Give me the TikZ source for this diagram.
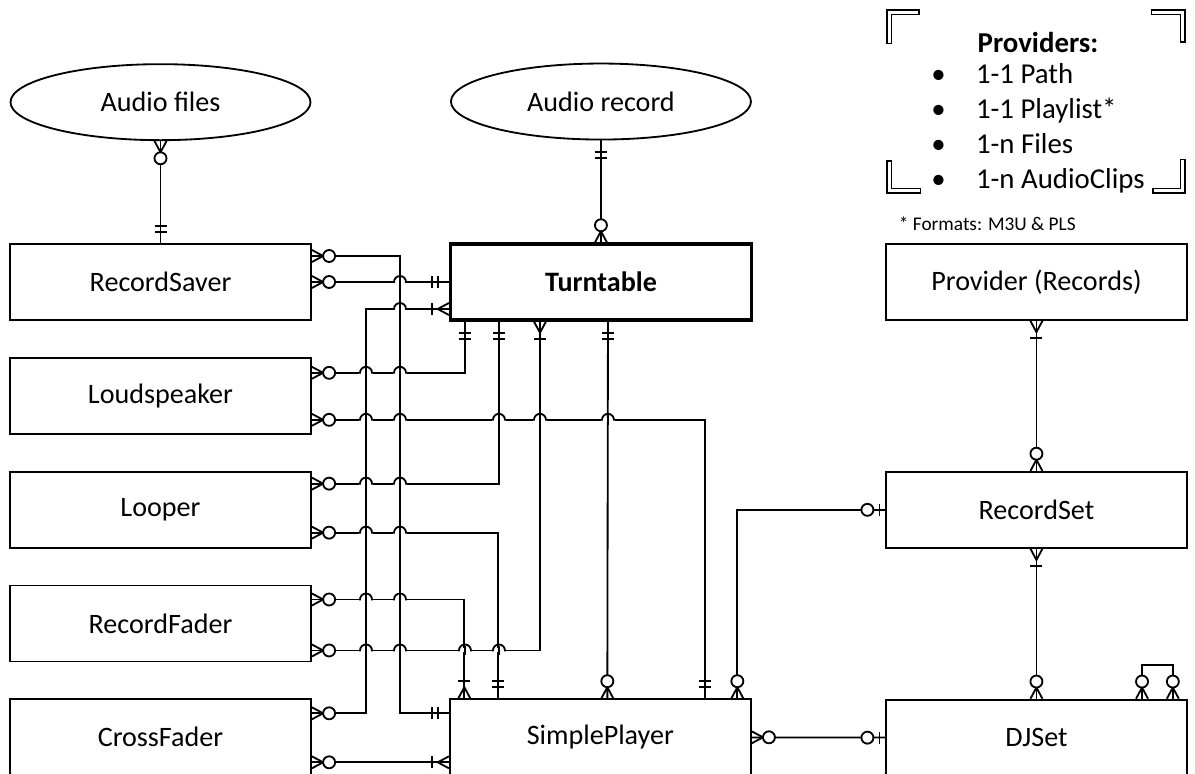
\documentclass[tikz,border=0pt]{standalone}
\usepackage{fontspec}
\setmainfont{Carlito}
\usetikzlibrary{shapes.geometric, positioning}

\tikzset{
    zeromany/.pic={
        \draw (0,0.15) -- (0.28,0) -- (0,-0.15);
        \draw[fill=white] (0.43,0) circle (0.15);
    },
    onemany/.pic={
        \draw (0,0.15) -- (0.28,0) -- (0,-0.15);
        \draw (0.43,0.15) -- (0.43,-0.15);
    },
    onlyone/.pic={
        \draw (0.28,0.15) -- (0.28,-0.15);
        \draw (0.43,0.15) -- (0.43,-0.15);
    },
    zeroone/.pic={
        \draw (0.14,0.15) -- (0.14,-0.15);
        \draw[fill=white] (0.44,0) circle (0.15);
    },
    hop/.pic={
        \fill[white] (-0.17,-0.05) rectangle (0.17,0.05);
        \draw (0,-0.12) -- (0,0.12);
        \draw (-0.17,0) -- (-0.15,0) arc[start angle=180, end angle=0, radius=0.15] -- (0.17,0);
    },
    legendmark/.pic={
        \draw[line width=0.8pt] (0,0) -- (0.8,0) -- (0.8,-0.11) -- (0.11,-0.11) -- (0.11,-0.83) -- (0,-0.83) -- cycle;
    }
}

\begin{document}
\begin{tikzpicture}[
    line width=1.3pt,
    box/.style={rectangle, draw, minimum width=7.525cm, minimum height=1.9cm, font=\fontsize{20}{24}\selectfont},
    storage/.style={ellipse, draw, minimum width=7.5cm, minimum height=1.9cm, font=\fontsize{20}{24}\selectfont}
]
\useasboundingbox (0,0) rectangle (29.875,-19.35);

% entities
\node[box] (recordsaver) at (4.0125,-7.05) {RecordSaver};
\node[box, below=0.9cm of recordsaver] (loudspeaker) {Loudspeaker};
\node[box, below=0.9cm of loudspeaker] (looper) {Looper};
\node[box, below=0.9cm of looper] (recordfader) {RecordFader};
\node[box, below=0.9cm of recordfader] (crossfader) {CrossFader};
\node[box, line width=2.2pt, right=3.425cm of recordsaver] (turntable) {\textbf{Turntable}};
\node[box, right=3.425cm of crossfader] (simpleplayer) {SimplePlayer};
\node[box, right=3.3cm of turntable] (provider) {Provider (Records)};
\node[box, below=3.75cm of provider] (recordset) {RecordSet};
\node[box, below=3.75cm of recordset] (djset) {DJSet};
\node[storage, above=2.55cm of recordsaver] (audiofiles) {Audio files};
\node[storage, above=2.55cm of turntable] (audiorecord) {Audio record};

% legend
\node[font=\fontsize{20.5}{25}\selectfont, inner sep=0pt] (legend) at (25.95,-2.8425) {\begin{tabular}{@{}c@{\hspace{0.76cm}}l@{}}
\multicolumn{2}{c}{\textbf{Providers:}}\\[-0.125cm]
\textbullet & 1-1 Path\\
\textbullet & 1-1 Playlist*\\
\textbullet & 1-n Files\\
\textbullet & 1-n AudioClips
\end{tabular}};
\node[anchor=west, inner sep=0pt, font=\fontsize{13.75}{16}\selectfont] (formats) at (22.45,-5.6) {* Formats: M3U \& PLS};
\pic at (22.175,-0.25) {legendmark};
\pic[rotate=-90] at (29.625,-0.25) {legendmark};
\pic[rotate=180] at (29.625,-4.825) {legendmark};
\pic[rotate=90] at (22.175,-4.825) {legendmark};

% vertical buses
\coordinate (busA) at (9.15,-10);
\coordinate (busB) at (10,-10);
\coordinate (colA) at ([xshift=-3.4cm]turntable.south);
\coordinate (colB) at ([xshift=-2.55cm]turntable.south);
\coordinate (colC) at ([xshift=-1.525cm]turntable.south);
\coordinate (colD) at ([xshift=0.175cm]turntable.south);

% relations
\draw (audiofiles) -- (recordsaver);
\draw (audiorecord) -- (turntable);
\draw ([yshift=0.65cm]recordsaver.east) -| (busB) |- ([yshift=0.6cm]simpleplayer.west);
\draw (recordsaver.east) -- (turntable.west);
\draw ([yshift=-0.675cm]turntable.west) -| (busA) |- ([yshift=0.6cm]crossfader.east);
\draw ([yshift=0.575cm]loudspeaker.east) -| ([xshift=-3.4cm]turntable.south);
\draw ([yshift=-0.6cm]loudspeaker.east) -| ([xshift=2.625cm]simpleplayer.north);
\draw ([yshift=0.65cm]looper.east) -| ([xshift=-2.55cm]turntable.south);
\draw ([yshift=-0.575cm]looper.east) -| ([xshift=-2.55cm]simpleplayer.north);
\draw ([yshift=0.6cm]recordfader.east) -| ([xshift=-3.4cm]simpleplayer.north);
\draw ([yshift=-0.675cm]recordfader.east) -| ([xshift=-1.525cm]turntable.south);
\draw ([yshift=-0.625cm]crossfader.east) -- ([yshift=-0.625cm]simpleplayer.west);
\draw ([xshift=0.175cm]turntable.south) -- ([xshift=0.175cm]simpleplayer.north);
\draw ([xshift=3.425cm]simpleplayer.north) |- (recordset.west);
\draw (simpleplayer) -- (djset);
\draw (provider) -- (recordset);
\draw (recordset) -- (djset);
\draw ([xshift=2.64cm]djset.north) -- ++(0,0.85) -| ([xshift=3.41cm]djset.north);

% line hops
\pic at (recordsaver.east -| busB) {hop};
\pic at ([yshift=-0.675cm]turntable.west -| busB) {hop};
\pic at ([yshift=0.575cm]loudspeaker.east -| busA) {hop};
\pic at ([yshift=0.575cm]loudspeaker.east -| busB) {hop};
\pic at ([yshift=-0.6cm]loudspeaker.east -| busA) {hop};
\pic at ([yshift=-0.6cm]loudspeaker.east -| busB) {hop};
\pic at ([yshift=-0.6cm]loudspeaker.east -| colB) {hop};
\pic at ([yshift=-0.6cm]loudspeaker.east -| colC) {hop};
\pic at ([yshift=-0.6cm]loudspeaker.east -| colD) {hop};
\pic at ([yshift=0.65cm]looper.east -| busA) {hop};
\pic at ([yshift=0.65cm]looper.east -| busB) {hop};
\pic at ([yshift=-0.575cm]looper.east -| busA) {hop};
\pic at ([yshift=-0.575cm]looper.east -| busB) {hop};
\pic at ([yshift=0.6cm]recordfader.east -| busA) {hop};
\pic at ([yshift=0.6cm]recordfader.east -| busB) {hop};
\pic at ([yshift=-0.675cm]recordfader.east -| busA) {hop};
\pic at ([yshift=-0.675cm]recordfader.east -| busB) {hop};
\pic at ([yshift=-0.675cm]recordfader.east -| colA) {hop};
\pic at ([yshift=-0.675cm]recordfader.east -| colB) {hop};

% cardinality marks
\pic[rotate=-90] at (audiofiles.south) {zeromany};
\pic[rotate=90] at (recordsaver.north) {onlyone};
\pic[rotate=-90] at (audiorecord.south) {onlyone};
\pic[rotate=90] at (turntable.north) {zeromany};
\pic at ([yshift=0.65cm]recordsaver.east) {zeromany};
\pic at (recordsaver.east) {zeromany};
\pic[rotate=180] at (turntable.west) {onlyone};
\pic[rotate=180] at ([yshift=-0.675cm]turntable.west) {onemany};
\pic at ([yshift=0.575cm]loudspeaker.east) {zeromany};
\pic at ([yshift=-0.6cm]loudspeaker.east) {zeromany};
\pic at ([yshift=0.65cm]looper.east) {zeromany};
\pic at ([yshift=-0.575cm]looper.east) {zeromany};
\pic at ([yshift=0.6cm]recordfader.east) {zeromany};
\pic at ([yshift=-0.675cm]recordfader.east) {zeromany};
\pic at ([yshift=0.6cm]crossfader.east) {zeromany};
\pic at ([yshift=-0.625cm]crossfader.east) {zeromany};
\pic[rotate=-90] at ([xshift=-3.4cm]turntable.south) {onlyone};
\pic[rotate=-90] at ([xshift=-2.55cm]turntable.south) {onlyone};
\pic[rotate=-90] at ([xshift=-1.525cm]turntable.south) {onemany};
\pic[rotate=-90] at ([xshift=0.175cm]turntable.south) {onlyone};
\pic[rotate=180] at ([yshift=0.6cm]simpleplayer.west) {onlyone};
\pic[rotate=180] at ([yshift=-0.625cm]simpleplayer.west) {onemany};
\pic[rotate=90] at ([xshift=-3.4cm]simpleplayer.north) {onemany};
\pic[rotate=90] at ([xshift=-2.55cm]simpleplayer.north) {onlyone};
\pic[rotate=90] at ([xshift=0.175cm]simpleplayer.north) {zeromany};
\pic[rotate=90] at ([xshift=2.625cm]simpleplayer.north) {onlyone};
\pic[rotate=90] at ([xshift=3.425cm]simpleplayer.north) {zeromany};
\pic at (simpleplayer.east) {zeromany};
\pic[rotate=180] at (recordset.west) {zeroone};
\pic[rotate=180] at (djset.west) {zeroone};
\pic[rotate=-90] at (provider.south) {onemany};
\pic[rotate=90] at (recordset.north) {zeromany};
\pic[rotate=-90] at (recordset.south) {onemany};
\pic[rotate=90] at (djset.north) {zeromany};
\pic[rotate=90] at ([xshift=2.64cm]djset.north) {zeromany};
\pic[rotate=90] at ([xshift=3.41cm]djset.north) {zeromany};

\end{tikzpicture}
\end{document}
